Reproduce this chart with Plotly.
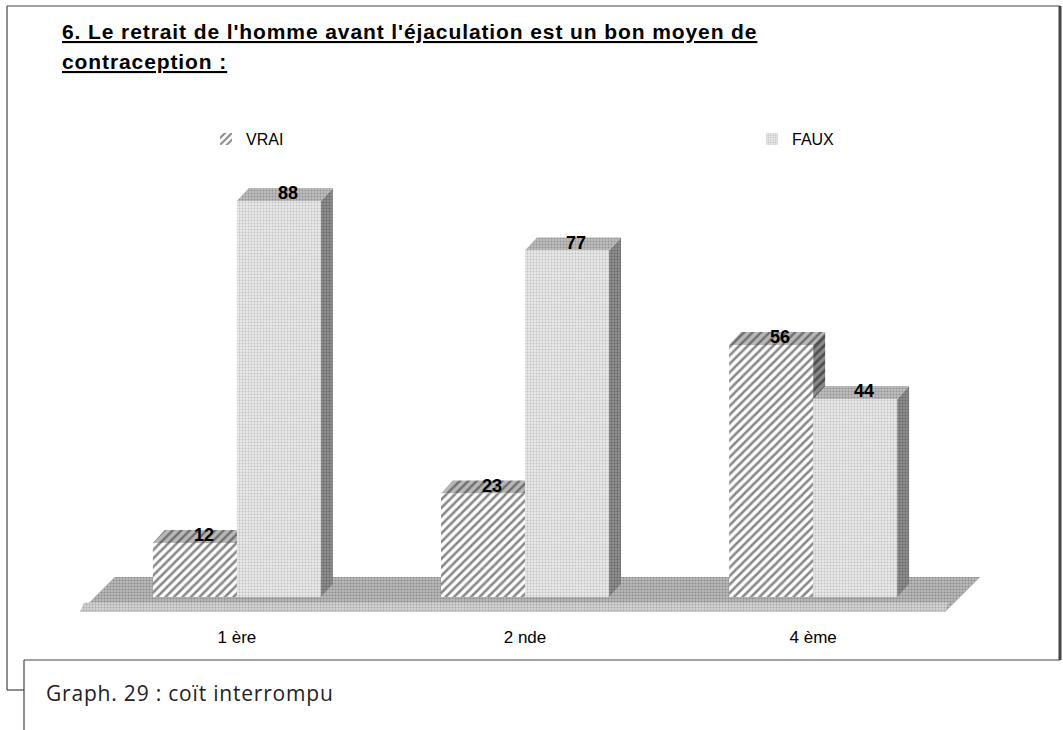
import plotly.graph_objects as go

# ---------------- data ----------------
categories = ["1 ère", "2 nde", "4 ème"]
series_names = ["VRAI", "FAUX"]
vrai = [12, 23, 56]
faux = [88, 77, 44]
title_lines = ["6. Le retrait de l'homme avant l'éjaculation est un bon moyen de",
               "contraception :"]
caption = "Graph. 29 : coït interrompu"

# ---------------- geometry ----------------
W, H = 1063, 730
ML, MR, MT, MB = 64, 77, 147, 115
PW, PH = W - ML - MR, H - MT - MB
XR = [-0.6, 2.6]
YR = [-4, 100]
BARGAP = 0.417
bw = (1 - BARGAP) / 2
DX = 12 / (PW / (XR[1] - XR[0]))
DY = 13 / (PH / (YR[1] - YR[0]))


def px(x):
    return (x - ML) / PW


def py(y):
    return (H - MB - y) / PH


ARIAL = "Liberation Sans, Arial, sans-serif"
xs = list(range(len(categories)))

fig = go.Figure()

# floor (decoration under the bars)
n = len(categories)
fx = [-0.545, n - 1 + 0.458, n - 1 + 0.58, -0.424, -0.545]
fy = [-3.33, -3.33, 4.44, 4.44, -3.33]
fig.add_trace(go.Scatter(x=fx, y=fy, mode="lines", fill="toself", line=dict(width=0),
                         fillcolor="#ababab",
                         fillpattern=dict(shape=".", bgcolor="#bababa", fgcolor="#5e5e5e",
                                          size=3, solidity=0.4),
                         showlegend=False, hoverinfo="skip"))
# lighter front rim of floor
fig.add_trace(go.Scatter(x=[-0.545, n - 1 + 0.458, n - 1 + 0.47, -0.53, -0.545],
                         y=[-3.33, -3.33, -1.2, -1.2, -3.33], mode="lines", fill="toself",
                         line=dict(width=0), fillcolor="#cccccc",
                         fillpattern=dict(shape=".", bgcolor="#d2d2d2", fgcolor="#808080",
                                          size=3, solidity=0.3),
                         showlegend=False, hoverinfo="skip"))


def faces(vals, sign):
    tx, ty, sx, sy = [], [], [], []
    for i, v in zip(xs, vals):
        c = i + sign * bw / 2
        x0, x1 = c - bw / 2, c + bw / 2
        tx += [x0, x1, x1 + DX, x0 + DX, x0, None]
        ty += [v, v, v + DY, v + DY, v, None]
        sx += [x1, x1 + DX, x1 + DX, x1, x1, None]
        sy += [0, DY, v + DY, v, 0, None]
    return tx, ty, sx, sy


vtx, vty, vsx, vsy = faces(vrai, -1)
ftx, fty, fsx, fsy = faces(faux, +1)

hatch_dark = dict(shape="/", bgcolor="#8a8a8a", fgcolor="#111111", size=6, solidity=0.45)
hatch_top = dict(shape="/", bgcolor="#b8b8b8", fgcolor="#222222", size=6, solidity=0.4)
for x_, y_, col, pat in [
    (vsx, vsy, "#8a8a8a", hatch_dark),
    (vtx, vty, "#bdbdbd", hatch_top),
    (fsx, fsy, "#8c8c8c", dict(shape=".", bgcolor="#8e8e8e", fgcolor="#444444", size=3, solidity=0.4)),
    (ftx, fty, "#bdbdbd", dict(shape=".", bgcolor="#bdbdbd", fgcolor="#6a6a6a", size=3, solidity=0.35)),
]:
    fig.add_trace(go.Scatter(x=x_, y=y_, mode="lines", fill="toself", line=dict(width=0),
                             fillcolor=col, fillpattern=pat, showlegend=False,
                             hoverinfo="skip"))

# front faces of the bars (on an overlaying axis so they sit above the side faces)
fig.add_trace(go.Bar(x=xs, y=vrai, name=series_names[0], xaxis="x2", yaxis="y2",
                     legend="legend",
                     marker=dict(color="white", line=dict(width=0),
                                 pattern=dict(shape="/", bgcolor="white", fgcolor="#111111",
                                              size=6, solidity=0.42))))
fig.add_trace(go.Bar(x=xs, y=faux, name=series_names[1], xaxis="x2", yaxis="y2",
                     legend="legend2",
                     marker=dict(color="#e0e0e0", line=dict(width=0),
                                 pattern=dict(shape=".", bgcolor="#e8e8e8", fgcolor="#9a9a9a",
                                              size=3, solidity=0.3))))

annotations = []
for vals, sign in [(vrai, -1), (faux, 1)]:
    for i, v in zip(xs, vals):
        annotations.append(dict(x=i + sign * bw / 2 + 0.03, y=v + 1.7, xref="x", yref="y",
                                text=f"<b>{v}</b>", showarrow=False,
                                font=dict(family=ARIAL, size=18, color="black")))

title_style = "letter-spacing:0.9px"
annotations.append(dict(x=px(60), y=py(31), xref="paper", yref="paper", xanchor="left",
                        yanchor="middle",
                        text=f"<span style='{title_style}'><b><u>{title_lines[0]}</u></b></span>",
                        showarrow=False, font=dict(family=ARIAL, size=21, color="black")))
annotations.append(dict(x=px(60), y=py(61), xref="paper", yref="paper", xanchor="left",
                        yanchor="middle",
                        text=f"<span style='{title_style}'><b><u>{title_lines[1]}</u></b></span>",
                        showarrow=False, font=dict(family=ARIAL, size=21, color="black")))
annotations.append(dict(x=px(44), y=py(693), xref="paper", yref="paper", xanchor="left",
                        yanchor="middle",
                        text=f"<span style='letter-spacing:0.8px'>{caption}</span>",
                        showarrow=False,
                        font=dict(family="Open Sans, sans-serif", size=21, color="#222222")))


def line(x0, y0, x1, y1, w=1.2):
    return dict(type="line", xref="paper", yref="paper", x0=px(x0), y0=py(y0),
                x1=px(x1), y1=py(y1), line=dict(color="#444444", width=w))


shapes = [
    line(7, 6, 1060, 6),
    line(7, 6, 7, 690),
    line(1060, 6, 1060, 660, 3),
    line(24, 660, 1060, 660),
    line(7, 690, 24, 690),
    line(24, 660, 24, 730),
]

axis_common = dict(range=XR, showgrid=False, zeroline=False, showline=False)
legend_common = dict(orientation="h", xanchor="left", yanchor="middle",
                     font=dict(family=ARIAL, size=16, color="black"),
                     bgcolor="rgba(0,0,0,0)")
fig.update_layout(
    width=W, height=H,
    margin=dict(l=ML, r=MR, t=MT, b=MB, pad=0),
    paper_bgcolor="white", plot_bgcolor="white",
    barmode="group", bargap=BARGAP, bargroupgap=0,
    xaxis=dict(**axis_common, tickvals=xs, ticktext=categories, ticks="",
               ticklabelstandoff=10,
               tickfont=dict(family=ARIAL, size=17, color="black")),
    yaxis=dict(range=YR, showgrid=False, zeroline=False, showline=False, showticklabels=False),
    xaxis2=dict(**axis_common, overlaying="x", showticklabels=False),
    yaxis2=dict(range=YR, showgrid=False, zeroline=False, showline=False,
                showticklabels=False, overlaying="y"),
    legend=dict(**legend_common, x=px(206), y=py(139)),
    legend2=dict(**legend_common, x=px(752), y=py(139)),
    annotations=annotations,
    shapes=shapes,
)

fig.write_html("out.html", config={"displayModeBar": False},
               post_script="document.body.style.margin='0px';")
